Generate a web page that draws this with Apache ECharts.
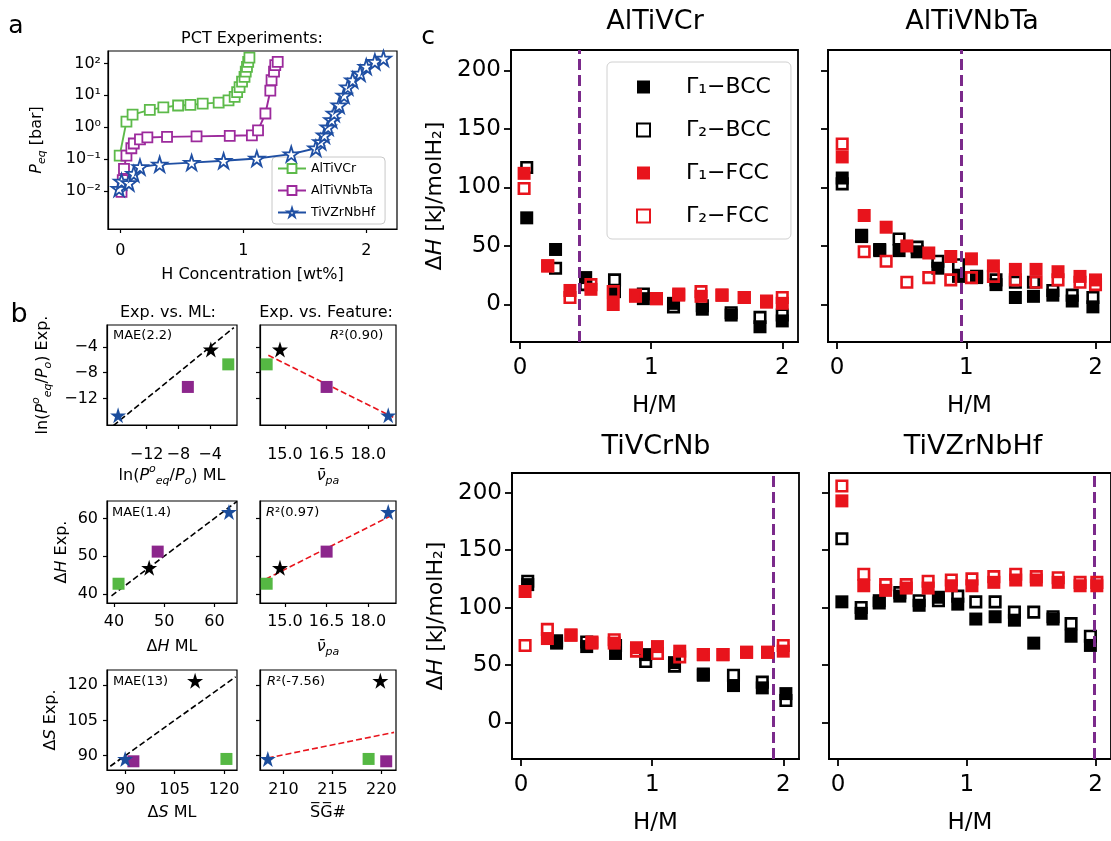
<!DOCTYPE html>
<html><head><meta charset="utf-8">
<script src="https://cdn.jsdelivr.net/npm/echarts@6/dist/echarts.min.js"></script>
<style>html,body{margin:0;padding:0;background:#fff}#c{width:1111px;height:841px}</style>
</head><body><div id="c"></div><script>
// ---------------- Panel a : PCT experiments ----------------
const aNames = ['AlTiVCr', 'AlTiVNbTa', 'TiVZrNbHf'];
const aAlTiVCrX = [-0.005,0.05,0.10,0.24,0.35,0.47,0.57,0.67,0.80,0.88,0.93,0.95,0.97,0.99,1.01,1.02,1.03,1.04,1.05];
const aAlTiVCrY = [0.13,1.5,2.5,3.5,4.2,4.8,5.0,5.5,5.9,7,9,12.6,18,27,38,55,78,112,153];
const aAlTiVNbTaX = [0.01,0.02,0.03,0.05,0.09,0.11,0.16,0.22,0.38,0.62,0.89,1.07,1.12,1.18,1.22,1.23,1.25,1.26,1.28];
const aAlTiVNbTaY = [0.0095,0.022,0.05,0.13,0.22,0.31,0.42,0.48,0.50,0.52,0.54,0.56,0.8,2.7,14,30,55,89,112];
const aTiVZrNbHfX = [-0.01,0.01,0.07,0.11,0.16,0.32,0.58,0.84,1.11,1.39,1.59,1.63,1.66,1.69,1.72,1.74,1.78,1.82,1.85,1.89,1.95,2.0,2.07,2.14];
const aTiVZrNbHfY = [0.012,0.02,0.018,0.035,0.057,0.069,0.078,0.089,0.105,0.144,0.22,0.35,0.56,1.0,1.7,2.7,4.9,10,18,30,49,79,113,143];
const aXTicks = [0, 1, 2];
const aYTicks = [0.01, 0.1, 1, 10, 100];

// ---------------- Panel b : Exp vs ML / Feature ----------------
const bAlloys = ['AlTiVCr', 'AlTiVNbTa', 'TiVZrNbHf', 'TiVCrNb'];
const bPeqML  = [-1.7, -6.8, -15.6, -3.9];
const bPeqExp = [-6.7, -10.2, -14.6, -4.4];
const bNuPa   = [14.34, 16.5, 18.72, 14.82];
const bHML    = [40.9, 48.7, 62.9, 47.0];
const bHExp   = [42.7, 51.2, 61.7, 46.9];
const bSML    = [120.7, 92.5, 90.0, 111.2];
const bSExp   = [88.6, 87.6, 88.6, 121.8];
const bSG     = [218.7, 220.5, 208.4, 219.9];
const bIdentPeq = [[-16.2, -16.2], [-1.0, -1.0]];
const bIdentH   = [[39.5, 39.5], [64.5, 64.5]];
const bIdentS   = [[85.5, 85.5], [123.5, 123.5]];
const bFitPeq = [[14.4, -5.3], [18.9, -14.9]];
const bFitH   = [[14.3, 43.9], [18.9, 61.0]];
const bFitS   = [[208.4, 89.0], [221.3, 99.9]];
const bStats = ['MAE(2.2)', '0.90', 'MAE(1.4)', '0.97', 'MAE(13)', '-7.56'];
const bTicksPeq = [-12, -8, -4];
const bTicksNu = [15.0, 16.5, 18.0];
const bTicksH = [40, 50, 60];
const bTicksS = [90, 105, 120];
const bTicksSG = [210, 215, 220];

// ---------------- Panel c : ΔH vs H/M ----------------
const cTitles = ['AlTiVCr', 'AlTiVNbTa', 'TiVCrNb', 'TiVZrNbHf'];
const cSeriesNames = ['Γ₁−BCC', 'Γ₂−BCC', 'Γ₁−FCC', 'Γ₂−FCC'];
const cBccX = [
  [0.05,0.27,0.5,0.72,0.94,1.17,1.39,1.61,1.83,2.0],
  [0.04,0.19,0.33,0.48,0.62,0.78,0.94,1.08,1.23,1.38,1.52,1.67,1.82,1.98],
  [0.05,0.27,0.5,0.72,0.95,1.17,1.39,1.62,1.84,2.02],
  [0.03,0.18,0.32,0.48,0.63,0.78,0.93,1.07,1.22,1.37,1.52,1.67,1.81,1.96]
];
const cFccX = [
  [0.03,0.21,0.38,0.54,0.71,0.88,1.04,1.21,1.38,1.54,1.71,1.88,2.0],
  [0.04,0.21,0.38,0.54,0.71,0.88,1.04,1.21,1.38,1.54,1.71,1.88,2.0],
  [0.03,0.2,0.38,0.54,0.71,0.88,1.04,1.21,1.39,1.54,1.72,1.88,2.0],
  [0.03,0.2,0.37,0.53,0.7,0.88,1.04,1.21,1.38,1.54,1.71,1.88,2.01]
];
const cG1Bcc = [
  [74,47,23,11,5,1,-4,-9,-19,-14],
  [108,58,46,46,45,31,24,23,17,6,7,8,3,-2],
  [120,69,66,60,59,52,41,32,30,25],
  [105,95,106,110,102,109,103,90,92,89,69,90,75,67]
];
const cG2Bcc = [
  [117,31,17,21,9,-2,-1,-7,-11,-9],
  [103,59,47,56,49,37,34,24,21,19,19,12,8,6],
  [123,71,70,67,53,49,42,41,35,19],
  [160,100,104,113,106,106,110,105,105,96,96,92,86,75]
];
const cG1Fcc = [
  [112,33,12,13,0,7,5,8,7,8,6,2,1],
  [126,76,66,50,44,41,39,33,30,30,28,24,21],
  [114,73,76,69,69,65,66,62,59,59,61,61,62],
  [193,119,115,117,117,119,119,122,124,124,122,119,119]
];
const cG2Fcc = [
  [99,33,6,17,11,8,5,9,11,8,6,3,6],
  [137,45,37,19,23,21,23,24,21,19,21,19,17],
  [67,81,76,70,72,62,60,57,59,59,61,61,67],
  [206,129,120,120,123,124,125,127,129,127,126,122,122]
];
const cVLines = [0.448, 0.96, 1.92, 1.99];
const cXTicks = [0, 1, 2];
const cYTicks = [0, 50, 100, 150, 200];

// ---------------- helpers ----------------
const F = 'DejaVu Sans';
const zip = (xs, ys) => xs.map((x, i) => [x, ys[i]]);
const num = v => (v < 0 ? '\u2212' : '') + Math.abs(v);
const fix1 = v => (v < 0 ? '\u2212' : '') + Math.abs(v).toFixed(1);
const supMap = {'-':'\u207B','0':'\u2070','1':'\u00B9','2':'\u00B2','3':'\u00B3'};
const logFmt = v => '10' + String(Math.round(Math.log10(v))).split('').map(c => supMap[c]).join('');
const STAR = 'path://M50,0 L61.2,34.5 L97.6,34.5 L68.2,55.9 L79.4,90.5 L50,69.1 L20.6,90.5 L31.8,55.9 L2.4,34.5 L38.8,34.5 Z';

function rich(fs) {
  const lh = Math.round(fs * 1.45);
  return {
    n: {fontSize: fs, fontFamily: F, color: '#000', lineHeight: lh, verticalAlign: 'middle'},
    i: {fontSize: fs, fontFamily: F, color: '#000', fontStyle: 'italic', lineHeight: lh, verticalAlign: 'middle'},
    sub: {fontSize: Math.round(fs * 0.7), fontFamily: F, color: '#000', fontStyle: 'italic', verticalAlign: 'bottom'},
    sup: {fontSize: Math.round(fs * 0.7), fontFamily: F, color: '#000', fontStyle: 'italic', verticalAlign: 'top'}
  };
}

function mkAxis(o) {
  return {
    type: o.type || 'value', gridIndex: o.grid, min: o.min, max: o.max,
    logBase: 10,
    axisLine: {show: true, onZero: false, lineStyle: {color: '#000', width: o.lw}},
    axisTick: {show: true, inside: false, length: o.tl, lineStyle: {color: '#000', width: o.lw}, customValues: o.ticks},
    axisLabel: {show: o.labels !== false, customValues: o.ticks, formatter: o.fmt || num, color: '#000',
                fontFamily: F, fontSize: o.fs, margin: o.margin},
    splitLine: {show: false}, minorTick: {show: false}, minorSplitLine: {show: false},
    name: o.name || '', nameLocation: 'middle', nameGap: o.gap || 0, nameRotate: o.rot || 0,
    nameTextStyle: {color: '#000', fontFamily: F, fontSize: o.nfs, lineHeight: Math.round((o.nfs||14) * 1.45), rich: rich(o.nfs || 14)}
  };
}

// ---------------- grids ----------------
const gridBoxes = [
  [108, 51, 289, 178],
  [107, 325, 130, 100], [260, 325, 136, 100],
  [107, 501, 130, 102], [260, 501, 136, 102],
  [107, 670, 130, 100], [260, 670, 136, 100],
  [511, 50, 287, 292], [828, 50, 287, 292],
  [512, 473, 287, 292], [829, 473, 287, 292]
];
const grid = gridBoxes.map((g, k) => ({
  left: g[0], top: g[1], width: g[2], height: g[3], show: true,
  borderColor: '#000', borderWidth: k >= 7 ? 1.8 : 1.2, backgroundColor: 'transparent', containLabel: false
}));

const peqName = '{n|ln(}{i|P}{sup|o}{sub|eq}{n|/}{i|P}{sub|o}{n|)';
const nuName = '{i|ν\u0304}{sub|pa}';
const xAxis = [], yAxis = [];
const FA = 16;
// a
xAxis.push(mkAxis({grid: 0, min: -0.1, max: 2.25, ticks: aXTicks, lw: 1.2, tl: 4, fs: FA, margin: 14,
  name: '{n|H Concentration [wt%]}', gap: 34, nfs: FA}));
yAxis.push(mkAxis({grid: 0, type: 'log', min: 0.00065, max: 245, ticks: aYTicks, fmt: logFmt, lw: 1.2, tl: 4, fs: FA, margin: 7,
  name: '{i|P}{sub|eq}{n| [bar]}', gap: 60, rot: 90, nfs: FA}));
// b
const bAx = [
  {x: [-17, -0.6], xt: bTicksPeq, y: [-16.1, -0.6], yt: bTicksPeq, xn: peqName + ' ML}', yn: peqName + ' Exp.}', m: 22, g: 35, yg: 53},
  {x: [14.1, 19.0], xt: bTicksNu, fmt: fix1, y: [-16.1, -0.6], yt: bTicksPeq, xn: nuName, m: 22, g: 35},
  {x: [38.6, 64.5], xt: bTicksH, y: [37.6, 64.6], yt: bTicksH, xn: '{n|Δ}{i|H}{n| ML}', yn: '{n|Δ}{i|H}{n| Exp.}', m: 11, g: 32, yg: 31},
  {x: [14.1, 19.0], xt: bTicksNu, fmt: fix1, y: [37.6, 64.6], yt: bTicksH, xn: nuName, m: 11, g: 32},
  {x: [84.5, 123.9], xt: bTicksS, y: [83.9, 126.4], yt: bTicksS, xn: '{n|Δ}{i|S}{n| ML}', yn: '{n|Δ}{i|S}{n| Exp.}', m: 12, g: 31, yg: 45},
  {x: [207.6, 221.5], xt: bTicksSG, y: [83.9, 126.4], yt: bTicksS, xn: '{n|S\u0305G\u0305#}', m: 12, g: 31}
];
bAx.forEach((b, k) => {
  xAxis.push(mkAxis({grid: k + 1, min: b.x[0], max: b.x[1], ticks: b.xt, fmt: b.fmt, lw: 1.2, tl: 4, fs: FA, margin: b.m,
    name: b.xn, gap: b.g, nfs: FA}));
  yAxis.push(mkAxis({grid: k + 1, min: b.y[0], max: b.y[1], ticks: b.yt, lw: 1.2, tl: 4, fs: FA, margin: 9,
    labels: k % 2 === 0, name: b.yn, gap: b.yg, rot: 90, nfs: FA}));
});
// c
for (let p = 0; p < 4; p++) {
  xAxis.push(mkAxis({grid: 7 + p, min: -0.07, max: 2.12, ticks: cXTicks, lw: 1.8, tl: 7, fs: 23, margin: 15,
    name: '{n|H/M}', gap: 48, nfs: 23}));
  yAxis.push(mkAxis({grid: 7 + p, min: -32, max: 217.3, ticks: cYTicks, lw: 1.8, tl: 7, fs: 23, margin: 10,
    labels: p % 2 === 0, name: p % 2 === 0 ? '{n|Δ}{i|H}{n| [kJ/molH₂]}' : '', gap: 60, rot: 90, nfs: 22}));
}

// ---------------- series ----------------
const series = [];
const aCol = ['#5dba4a', '#9c2a9c', '#1f4fa3'];
const aX = [aAlTiVCrX, aAlTiVNbTaX, aTiVZrNbHfX], aY = [aAlTiVCrY, aAlTiVNbTaY, aTiVZrNbHfY];
aNames.forEach((n, j) => {
  series.push({
    type: 'line', name: n, xAxisIndex: 0, yAxisIndex: 0, data: zip(aX[j], aY[j]),
    symbol: j === 2 ? STAR : 'rect', symbolSize: j === 2 ? 15 : 10, showSymbol: true, showAllSymbol: true,
    lineStyle: {color: aCol[j], width: 1.9},
    itemStyle: {color: '#fff', borderColor: aCol[j], borderWidth: 1.8, opacity: 1}, z: 3 + j
  });
});

const bCol = ['#55b843', '#8c268c', '#1b4d9c', '#000000'];
const bPlots = [
  {x: bPeqML, y: bPeqExp, line: bIdentPeq, lc: '#000'},
  {x: bNuPa, y: bPeqExp, line: bFitPeq, lc: '#e8141c'},
  {x: bHML, y: bHExp, line: bIdentH, lc: '#000'},
  {x: bNuPa, y: bHExp, line: bFitH, lc: '#e8141c'},
  {x: bSML, y: bSExp, line: bIdentS, lc: '#000'},
  {x: bSG, y: bSExp, line: bFitS, lc: '#e8141c'}
];
bPlots.forEach((bp, k) => {
  series.push({type: 'line', name: 'fit' + k, xAxisIndex: k + 1, yAxisIndex: k + 1, data: bp.line,
    symbol: 'none', lineStyle: {color: bp.lc, width: 1.6, type: [6, 3]}, z: 2, silent: true});
  bAlloys.forEach((al, j) => {
    series.push({type: 'scatter', name: 'b-' + al, xAxisIndex: k + 1, yAxisIndex: k + 1,
      data: [[bp.x[j], bp.y[j]]], symbol: j >= 2 ? STAR : 'rect', symbolSize: j >= 2 ? 16 : 12,
      itemStyle: {color: bCol[j], opacity: 1}, z: 4});
  });
});

const red = '#e8141c';
for (let p = 0; p < 4; p++) {
  const ax = 7 + p;
  const defs = [
    {x: cBccX[p], y: cG1Bcc[p], st: {color: '#000', opacity: 1}, size: 13},
    {x: cBccX[p], y: cG2Bcc[p], st: {color: 'rgba(0,0,0,0)', borderColor: '#000', borderWidth: 2.6, opacity: 1}, size: 10.5},
    {x: cFccX[p], y: cG1Fcc[p], st: {color: red, opacity: 1}, size: 13},
    {x: cFccX[p], y: cG2Fcc[p], st: {color: 'rgba(0,0,0,0)', borderColor: red, borderWidth: 2.6, opacity: 1}, size: 10.5}
  ];
  defs.forEach((d, s) => {
    const ser = {type: 'scatter', name: cSeriesNames[s], xAxisIndex: ax, yAxisIndex: ax,
      data: zip(d.x, d.y), symbol: 'rect', symbolSize: d.size, itemStyle: d.st, z: 3 + s};
    if (s === 3) {
      ser.markLine = {silent: true, symbol: ['none', 'none'], label: {show: false}, animation: false,
        lineStyle: {color: '#7b2a8b', width: 3, type: [11, 5], opacity: 1}, data: [{xAxis: cVLines[p]}]};
    }
    series.push(ser);
  });
}

// ---------------- texts ----------------
function txt(t, x, y, fs, align, extra) {
  return Object.assign({type: 'text', x: x, y: y, silent: true,
    style: {text: t, fontSize: fs, fontFamily: F, fill: '#000',
      align: align || 'center', textAlign: align || 'center', verticalAlign: 'middle', textVerticalAlign: 'middle'}}, extra || {});
}
const rSmall = {i: {fontStyle: 'italic', fontSize: 13, fontFamily: F, fill: '#000'}, n: {fontSize: 13, fontFamily: F, fill: '#000'}};
const rStat = v => {
  const t = txt('{i|R}{n|²(' + v + ')}', 0, 0, 13, 'left');
  t.style.rich = rSmall; return t;
};
const graphics = [
  txt('a', 16, 26, 25),
  txt('PCT Experiments:', 252, 39, 16),
  txt('b', 19, 315, 27),
  txt('Exp. vs. ML:', 168, 313, 16),
  txt('Exp. vs. Feature:', 326, 313, 16),
  txt('c', 428, 37, 25),
  txt(bStats[0], 113, 336, 13, 'left'),
  Object.assign(rStat(bStats[1]), {x: 330, y: 336}),
  txt(bStats[2], 112, 513, 13, 'left'),
  Object.assign(rStat(bStats[3]), {x: 266, y: 513}),
  txt(bStats[4], 113, 682, 13, 'left'),
  Object.assign(rStat(bStats[5]), {x: 267, y: 682}),
  txt(cTitles[0], 655, 22, 27),
  txt(cTitles[1], 972, 22, 27),
  txt(cTitles[2], 656, 447, 27),
  txt(cTitles[3], 973, 447, 27)
];

const option = {
  animation: false,
  backgroundColor: '#fff',
  textStyle: {fontFamily: F},
  grid: grid, xAxis: xAxis, yAxis: yAxis, series: series,
  legend: [
    {data: aNames, orient: 'vertical', left: 272, top: 157, itemWidth: 28, itemHeight: 11, itemGap: 9,
     padding: [5, 10, 5, 5], selectedMode: false,
     textStyle: {fontSize: 12.5, fontFamily: F, color: '#000'},
     borderColor: '#c8c8c8', borderWidth: 1, borderRadius: 4, backgroundColor: '#fff'},
    {data: cSeriesNames, orient: 'vertical', left: 607, top: 62, itemWidth: 13, itemHeight: 13, itemGap: 21,
     padding: [14, 20, 12, 29], selectedMode: false,
     textStyle: {fontSize: 22, fontFamily: F, color: '#000', padding: [0, 0, 0, 31]},
     borderColor: '#d0d0d0', borderWidth: 1, borderRadius: 5, backgroundColor: 'rgba(255,255,255,0.85)'}
  ],
  graphic: graphics
};
const chart = echarts.init(document.getElementById('c'), null, {renderer: 'canvas', width: 1111, height: 841});
chart.setOption(option);
</script></body></html>
